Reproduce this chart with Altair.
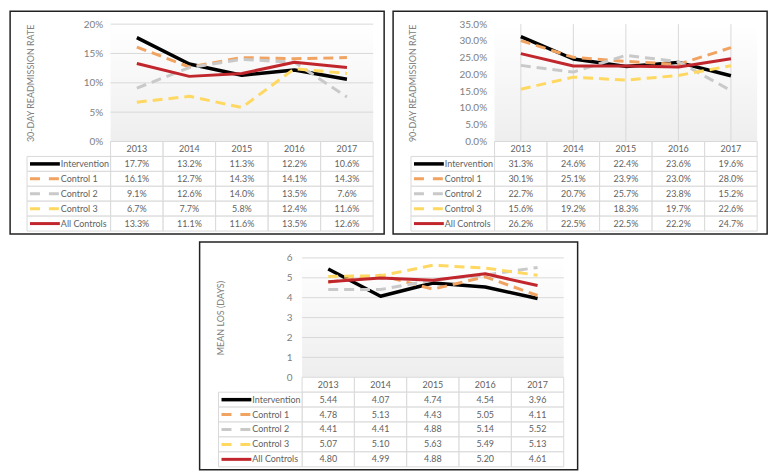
import altair as alt
import pandas as pd

YEARS = [2013, 2014, 2015, 2016, 2017]
SERIES = ["Intervention", "Control 1", "Control 2", "Control 3", "All Controls"]

# 30-day readmission rate (%)
R30_INTERVENTION = [17.7, 13.2, 11.3, 12.2, 10.6]
R30_CONTROL_1 = [16.1, 12.7, 14.3, 14.1, 14.3]
R30_CONTROL_2 = [9.1, 12.6, 14.0, 13.5, 7.6]
R30_CONTROL_3 = [6.7, 7.7, 5.8, 12.4, 11.6]
R30_ALL_CONTROLS = [13.3, 11.1, 11.6, 13.5, 12.6]

# 90-day readmission rate (%)
R90_INTERVENTION = [31.3, 24.6, 22.4, 23.6, 19.6]
R90_CONTROL_1 = [30.1, 25.1, 23.9, 23.0, 28.0]
R90_CONTROL_2 = [22.7, 20.7, 25.7, 23.8, 15.2]
R90_CONTROL_3 = [15.6, 19.2, 18.3, 19.7, 22.6]
R90_ALL_CONTROLS = [26.2, 22.5, 22.5, 22.2, 24.7]

# mean length of stay (days)
LOS_INTERVENTION = [5.44, 4.07, 4.74, 4.54, 3.96]
LOS_CONTROL_1 = [4.78, 5.13, 4.43, 5.05, 4.11]
LOS_CONTROL_2 = [4.41, 4.41, 4.88, 5.14, 5.52]
LOS_CONTROL_3 = [5.07, 5.10, 5.63, 5.49, 5.13]
LOS_ALL_CONTROLS = [4.80, 4.99, 4.88, 5.20, 4.61]

TICKS_30 = [0, 5, 10, 15, 20]
TICKS_90 = [0, 5, 10, 15, 20, 25, 30, 35]
TICKS_LOS = [0, 1, 2, 3, 4, 5, 6]

STYLES = {
    "Intervention": {"color": "#000000", "strokeWidth": 3.5},
    "Control 1": {"color": "#F1A362", "strokeWidth": 3, "strokeDash": [10, 6]},
    "Control 2": {"color": "#C9C9C9", "strokeWidth": 3, "strokeDash": [10, 6]},
    "Control 3": {"color": "#FFD862", "strokeWidth": 3, "strokeDash": [10, 6]},
    "All Controls": {"color": "#C0262C", "strokeWidth": 3},
}

FONT = "Lato"
TEXT = "#626262"
AXIS_TEXT = "#808080"
GRID = "#D9D9D9"


def make_panel(values, title, ticks, label_expr, cell_fmt, vertical_grid, geo):
    """One Excel-style line chart with its data table below, boxed by the view stroke."""
    left, x0, x1 = geo["legend_left"], geo["plot_left"], geo["plot_right"]
    top, bottom, row_h = geo["plot_top"], geo["plot_bottom"], geo["row_h"]
    ymax = ticks[-1]
    xs, xe = YEARS[0] - 0.5, YEARS[-1] + 0.5

    x_scale = alt.Scale(domain=[xs, xe], range=[x0, x1], nice=False, zero=False)
    y_scale = alt.Scale(domain=[0, ymax], range=[bottom, top], nice=False, zero=False)
    y_axis = alt.Axis(
        values=ticks,
        labelExpr=label_expr,
        domain=False,
        ticks=False,
        grid=False,
        offset=-x0,
        labelPadding=geo["label_pad"],
        labelFont=FONT,
        labelFontSize=10,
        labelColor=AXIS_TEXT,
        title=title,
        titleX=geo["title_x"] - x0,
        titleBaseline="middle",
        titleFont=FONT,
        titleFontSize=9,
        titleFontWeight="normal",
        titleColor=AXIS_TEXT,
        titleLimit=300,
    )

    def X(field):
        return alt.X(field, scale=x_scale, axis=None)

    def Y(field):
        return alt.Y(field, scale=y_scale, axis=y_axis)

    # plot background, fading to light grey
    bg = pd.DataFrame({"x_start": [xs], "x_end": [xe], "y_start": [0], "y_end": [ymax]})
    back = alt.Chart(bg).mark_rect(
        color=alt.LinearGradient(
            gradient="linear",
            stops=[
                alt.GradientStop(color="#FFFFFF", offset=0),
                alt.GradientStop(color="#EEEEEE", offset=1),
            ],
            x1=0, x2=0, y1=0, y2=1,
        )
    ).encode(x=X("x_start:Q"), x2="x_end", y=Y("y_start:Q"), y2="y_end")

    if vertical_grid:
        gdf = pd.DataFrame({"year": YEARS, "y_start": 0, "y_end": ymax})
        grid = alt.Chart(gdf).mark_rule(color=GRID, strokeWidth=1).encode(
            x=X("year:Q"), y=Y("y_start:Q"), y2="y_end"
        )
    else:
        gdf = pd.DataFrame({"tick": ticks[1:], "x_start": xs, "x_end": xe})
        grid = alt.Chart(gdf).mark_rule(color=GRID, strokeWidth=1).encode(
            x=X("x_start:Q"), x2="x_end", y=Y("tick:Q")
        )

    lines = []
    for s in SERIES:
        df = pd.DataFrame({"year": YEARS, "value": values[s]})
        lines.append(
            alt.Chart(df).mark_line(strokeJoin="round", **STYLES[s]).encode(
                x=X("year:Q"), y=Y("value:Q")
            )
        )
    plot = alt.layer(back, grid, *lines)

    # data table
    rows = ["header"] + SERIES
    row_scale = alt.Scale(
        type="band", domain=rows, range=[bottom, bottom + row_h * len(rows)],
        paddingInner=0, paddingOuter=0,
    )
    R_band = alt.Y("row:N", scale=row_scale, axis=None)
    R_mid = alt.Y("row:N", scale=row_scale, axis=None, bandPosition=0.5)

    cells = []
    for y in YEARS:
        cells.append({"row": "header", "year": y, "label": str(y)})
    for s in SERIES:
        for y, v in zip(YEARS, values[s]):
            cells.append({"row": s, "year": y, "label": cell_fmt(v)})
    cells = pd.DataFrame(cells)
    cells["x_start"] = cells["year"] - 0.5
    cells["x_end"] = cells["year"] + 0.5

    cell_box = alt.Chart(cells).mark_rect(fill="white", stroke=GRID, strokeWidth=1).encode(
        x=X("x_start:Q"), x2="x_end", y=R_band
    )
    cell_text = alt.Chart(cells).mark_text(font=FONT, fontSize=9, color=TEXT).encode(
        x=X("year:Q"), y=R_mid, text="label:N"
    )
    legend = pd.DataFrame({"row": SERIES})
    legend_box = alt.Chart(legend).mark_rect(fill="white", stroke=GRID, strokeWidth=1).encode(
        x=alt.value(left), x2=alt.value(x0), y=R_band
    )
    legend_text = alt.Chart(legend).mark_text(
        font=FONT, fontSize=9, color=TEXT, align="left"
    ).encode(x=alt.value(left + 34), y=R_mid, text="row:N")
    swatches = []
    for s in SERIES:
        style = dict(STYLES[s])
        if "strokeDash" in style:
            style["strokeDash"] = [10, 9]
        swatches.append(
            alt.Chart(pd.DataFrame({"row": [s]})).mark_rule(**style).encode(
                x=alt.value(left + 3), x2=alt.value(left + 33), y=R_mid
            )
        )
    table = alt.layer(cell_box, legend_box, cell_text, legend_text, *swatches)

    return (
        alt.layer(plot, table)
        .resolve_scale(y="independent")
        .properties(width=geo["width"], height=geo["height"])
    )


def pct(v):
    return f"{v:.1f}%"


def days(v):
    return f"{v:.2f}"


panel_30 = make_panel(
    {
        "Intervention": R30_INTERVENTION,
        "Control 1": R30_CONTROL_1,
        "Control 2": R30_CONTROL_2,
        "Control 3": R30_CONTROL_3,
        "All Controls": R30_ALL_CONTROLS,
    },
    "30-DAY READMISSION RATE",
    TICKS_30,
    "datum.value + '%'",
    pct,
    False,
    {"width": 376, "height": 224, "legend_left": 17, "plot_left": 101, "plot_right": 365,
     "plot_top": 13, "plot_bottom": 131, "row_h": 15, "label_pad": 8, "title_x": 21},
)

panel_90 = make_panel(
    {
        "Intervention": R90_INTERVENTION,
        "Control 1": R90_CONTROL_1,
        "Control 2": R90_CONTROL_2,
        "Control 3": R90_CONTROL_3,
        "All Controls": R90_ALL_CONTROLS,
    },
    "90-DAY READMISSION RATE",
    TICKS_90,
    "format(datum.value, '.1f') + '%'",
    pct,
    True,
    {"width": 376, "height": 224, "legend_left": 18, "plot_left": 102, "plot_right": 366,
     "plot_top": 13, "plot_bottom": 131, "row_h": 15, "label_pad": 8, "title_x": 20},
)

panel_los = make_panel(
    {
        "Intervention": LOS_INTERVENTION,
        "Control 1": LOS_CONTROL_1,
        "Control 2": LOS_CONTROL_2,
        "Control 3": LOS_CONTROL_3,
        "All Controls": LOS_ALL_CONTROLS,
    },
    "MEAN LOS (DAYS)",
    TICKS_LOS,
    "format(datum.value, 'd')",
    days,
    False,
    {"width": 380, "height": 229, "legend_left": 19, "plot_left": 103, "plot_right": 366,
     "plot_top": 16, "plot_bottom": 136, "row_h": 15, "label_pad": 10, "title_x": 21},
)

chart = (
    alt.vconcat(alt.hconcat(panel_30, panel_90, spacing=7), panel_los, spacing=6, center=True)
    .properties(padding=1, background="white")
    .configure_view(stroke="#222222", strokeWidth=1.5)
)

chart.save("out.html", embed_options={"renderer": "svg", "actions": False})
